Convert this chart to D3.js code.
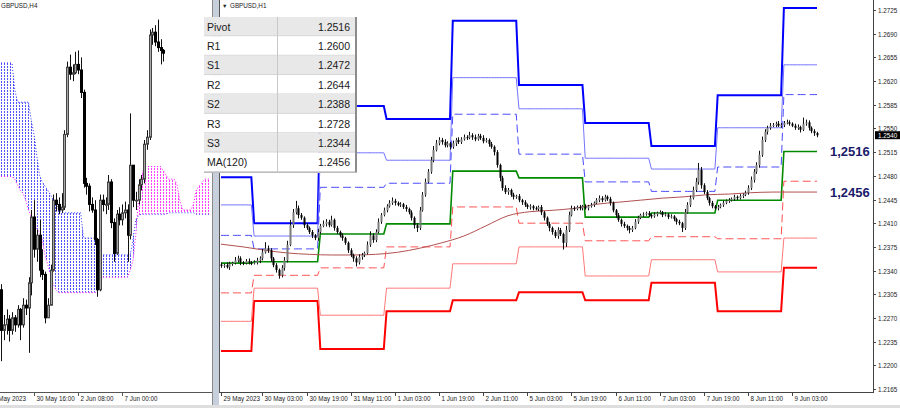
<!DOCTYPE html>
<html><head><meta charset="utf-8">
<script src="https://cdn.jsdelivr.net/npm/d3@7"></script>
<style>
html,body{margin:0;padding:0;background:#fff;}
svg{display:block;}
text{font-family:"Liberation Sans",Arial,sans-serif;}
</style></head><body>
<svg id="c" width="900" height="408"></svg>
<script>
// ---------------- DATA ----------------
// H1 panel (right): bars from 29 May 2023 12:00, one per hour
const h1FirstOpen = 1.2349;
const h1Close = [
1.2347,1.2348,1.2345,1.2350,1.2351,1.2355,1.2358,1.2352,1.2351,1.2354,1.2352,1.2351,
1.2352,1.2355,1.2358,1.2367,1.2373,1.2370,1.2358,1.2348,1.2341,1.2333,1.2344,1.2355,1.2378,1.2407,1.2426,1.2432,1.2422,1.2418,1.2407,1.2403,1.2397,1.2392,1.2388,1.2397,
1.2406,1.2409,1.2412,1.2407,1.2415,1.2403,1.2397,1.2392,1.2388,1.2381,1.2370,1.2363,1.2358,1.2352,1.2360,1.2363,1.2366,1.2378,1.2392,1.2385,1.2397,1.2412,1.2422,1.2429,
1.2435,1.2440,1.2443,1.2440,1.2437,1.2438,1.2434,1.2431,1.2426,1.2418,1.2407,1.2403,1.2429,1.2452,1.2471,1.2486,1.2503,1.2518,1.2528,1.2533,1.2530,1.2525,1.2528,1.2523,
1.2528,1.2533,1.2530,1.2534,1.2537,1.2536,1.2540,1.2537,1.2534,1.2539,1.2536,1.2531,1.2533,1.2527,1.2523,1.2515,1.2496,1.2477,1.2462,1.2456,1.2459,1.2452,1.2449,1.2450,
1.2444,1.2441,1.2437,1.2434,1.2435,1.2432,1.2431,1.2434,1.2426,1.2418,1.2409,1.2403,1.2397,1.2391,1.2400,1.2394,1.2381,1.2400,1.2422,1.2432,1.2431,1.2434,1.2432,1.2435,
1.2432,1.2435,1.2437,1.2440,1.2444,1.2447,1.2444,1.2449,1.2446,1.2440,1.2429,1.2422,1.2415,1.2409,1.2406,1.2403,1.2400,1.2403,1.2412,1.2418,1.2422,1.2423,1.2425,1.2422,
1.2420,1.2423,1.2425,1.2426,1.2422,1.2423,1.2419,1.2420,1.2416,1.2412,1.2410,1.2403,1.2426,1.2437,1.2447,1.2459,1.2471,1.2489,1.2466,1.2456,1.2447,1.2440,1.2435,1.2432,
1.2434,1.2437,1.2440,1.2443,1.2444,1.2446,1.2449,1.2447,1.2450,1.2452,1.2455,1.2462,1.2474,1.2486,1.2496,1.2511,1.2533,1.2545,1.2551,1.2554,1.2555,1.2557,1.2554,1.2555,
1.2558,1.2559,1.2557,1.2554,1.2551,1.2552,1.2548,1.2557,1.2559,1.2551,1.2546,1.2543,1.2540];
// wick lengths in pips above max(open,close) and below min(open,close)
const h1UpWick = [
3,2,4,3,2,5,4,3,2,3,4,2,
3,4,3,5,9,4,3,2,3,2,4,5,6,8,5,11,4,3,2,3,2,3,2,4,
3,5,4,3,6,2,3,2,3,2,2,3,2,3,4,3,2,5,6,3,4,5,3,4,
3,4,5,3,2,3,2,3,2,3,2,3,5,4,5,4,5,6,5,4,3,4,3,2,
4,3,4,3,4,3,5,3,4,3,3,4,3,2,3,2,3,2,3,4,3,2,3,2,
3,2,3,2,3,2,3,2,3,2,2,3,2,3,4,3,2,6,5,4,3,2,3,2,
3,2,3,2,3,4,3,3,2,3,2,2,3,2,3,2,3,3,4,3,2,3,2,3,
2,3,2,3,2,3,2,3,2,2,3,2,5,4,4,5,6,10,4,3,3,2,3,2,
3,2,3,2,3,2,3,2,3,2,3,4,5,4,4,6,5,4,3,4,3,3,4,3,
3,4,3,2,3,4,2,9,4,3,2,3,2];
const h1DnWick = [
3,3,2,4,3,2,3,4,3,2,3,3,
2,3,4,3,2,4,5,3,4,5,3,4,3,2,4,3,5,3,4,3,3,4,3,4,
3,2,4,3,2,4,3,3,4,3,4,3,5,6,3,4,3,2,3,4,3,2,3,2,
3,2,3,4,2,3,3,4,3,4,5,6,3,2,3,2,3,3,2,3,4,3,3,4,
3,4,3,3,2,3,2,4,3,2,3,3,2,4,3,5,4,5,4,3,4,3,4,3,
3,4,3,3,4,3,2,3,4,4,3,5,4,3,4,3,10,6,3,2,3,2,3,3,
2,3,2,3,2,3,3,2,3,4,3,4,3,4,3,4,5,3,2,3,2,3,2,3,
3,2,3,2,3,2,3,2,3,4,3,6,3,2,3,2,3,4,5,3,3,4,3,2,
3,2,3,2,3,2,3,3,2,3,2,3,3,4,3,4,3,3,4,3,2,3,2,3,
3,2,3,2,3,3,4,2,3,4,3,4,3];

// daily pivot levels (one value per trading day shown)
const dayStartBar = [0,12,36,60,84,108,132,156,180,204];
const levelR3 = [1.2478,1.2410,1.2583,1.2564,1.2709,1.2614,1.2558,1.2524,1.2599,1.2728];
const levelR2 = [1.2437,1.2391,1.2514,1.2503,1.2625,1.2579,1.2506,1.2490,1.2551,1.2644];
const levelR1 = [1.2392,1.2372,1.2463,1.2469,1.2571,1.2512,1.2471,1.2457,1.2493,1.2600];
const levelP  = [1.2351,1.2353,1.2394,1.2409,1.2487,1.2477,1.2419,1.2425,1.2444,1.2516];
const levelS1 = [1.2307,1.2333,1.2344,1.2375,1.2434,1.2410,1.2384,1.2390,1.2387,1.2472];
const levelS2 = [1.2265,1.2314,1.2274,1.2314,1.2350,1.2375,1.2332,1.2356,1.2338,1.2388];
const levelS3 = [1.2221,1.2295,1.2224,1.2280,1.2296,1.2308,1.2296,1.2322,1.2280,1.2344];

// MA(120) read every 8 bars
const maBar = [0,8,16,24,32,40,48,56,64,72,80,88,96,104,112,120,128,136,144,152,160,168,176,184,192,200,208,216];
const maVal = [1.2379,1.2375,1.2370,1.2366,1.2364,1.2363,1.2363,1.2364,1.2367,1.2373,1.2381,1.2391,1.2406,1.2421,1.2427,1.2429,1.2432,1.2438,1.2441,1.2444,1.2447,1.2449,1.2452,1.2453,1.2455,1.2456,1.2456,1.2456];

const h1TickLabels = ["1.2725","1.2690","1.2655","1.2620","1.2585","1.2550","1.2515","1.2480","1.2445","1.2410","1.2375","1.2340","1.2305","1.2270","1.2235","1.2200","1.2165"];
const h1TimeLabels = ["29 May 2023","30 May 03:00","30 May 19:00","31 May 11:00","1 Jun 03:00","1 Jun 19:00","2 Jun 11:00","5 Jun 03:00","5 Jun 19:00","6 Jun 11:00","7 Jun 03:00","7 Jun 19:00","8 Jun 11:00","9 Jun 03:00"];
const h1TimeBars = [0,15,31,47,63,79,95,111,127,143,159,175,191,207];
const lastPrice = "1.2540";
const sideLabels = ["1,2516","1,2456"];
const sideValues = [1.2516,1.2456];

// legend table
const tableLabels = ["Pivot","R1","S1","R2","S2","R3","S3","MA(120)"];
const tableValues = ["1.2516","1.2600","1.2472","1.2644","1.2388","1.2728","1.2344","1.2456"];

// H4 panel (left): bars from 26 May 16:00, every 4 hours
const h4FirstOpen = 1.2375;
const h4Close = [1.2346,1.2350,1.2354,1.2346,1.2355,1.2350,1.2361,1.2350,1.2364,1.2362,1.2380,1.2427,1.2404,1.2414,1.2389,1.2386,1.2355,1.2364,1.2389,1.2439,1.2436,1.2432,1.2434,1.2486,1.2534,1.2529,1.2530,1.2536,1.2532,1.2516,1.2451,1.2449,1.2436,1.2432,1.2411,1.2375,1.2439,1.2436,1.2436,1.2452,1.2423,1.2401,1.2429,1.2425,1.2430,1.2432,1.2414,1.2464,1.2439,1.2439,1.2450,1.2454,1.2479,1.2484,1.2557,1.2559,1.2552,1.2548,1.2546,1.2544];
const h4High = [1.2379,1.2357,1.2361,1.2357,1.2359,1.2357,1.2364,1.2362,1.2369,1.2368,1.2384,1.2432,1.2439,1.2418,1.2425,1.2404,1.2388,1.2369,1.2393,1.2443,1.2444,1.2441,1.2444,1.2489,1.2538,1.2543,1.2536,1.2545,1.2546,1.2541,1.2518,1.2455,1.2451,1.2441,1.2439,1.2412,1.2443,1.2443,1.2441,1.2457,1.2454,1.2426,1.2432,1.2434,1.2436,1.2438,1.2436,1.2501,1.2464,1.2445,1.2454,1.2457,1.2482,1.2489,1.2561,1.2562,1.2564,1.2568,1.2554,1.2547];
const h4Low = [1.2324,1.2339,1.2343,1.2338,1.2343,1.2345,1.2348,1.2339,1.2348,1.2357,1.2330,1.2371,1.2398,1.2395,1.2384,1.2382,1.2351,1.2355,1.2364,1.2388,1.2431,1.2429,1.2430,1.2432,1.2484,1.2525,1.2524,1.2529,1.2529,1.2512,1.2448,1.2443,1.2431,1.2430,1.2407,1.2370,1.2374,1.2431,1.2429,1.2432,1.2419,1.2395,1.2400,1.2421,1.2421,1.2426,1.2395,1.2411,1.2434,1.2432,1.2436,1.2446,1.2451,1.2475,1.2482,1.2550,1.2549,1.2545,1.2536,1.2538];
// Ichimoku spans (shifted forward, so they run past the last bar)
const spanA = [1.2537,1.2537,1.2537,1.2537,1.2537,1.2518,1.2509,1.2509,1.2509,1.2509,1.2509,1.2496,1.2486,1.2471,1.2457,1.2452,1.2449,1.2446,1.2443,1.2439,1.2436,1.2432,
1.2430,1.2430,1.2430,1.2430,1.2430,1.2430,1.2430,1.2430,1.2412,1.2412,1.2412,1.2412,1.2412,1.2412,
1.2400,1.2400,1.2400,1.2400,1.2400,1.2400,1.2400,1.2400,1.2400,1.2400,1.2400,1.2400,1.2411,1.2425,1.2428,
1.2429,1.2429,1.2429,1.2429,1.2429,1.2429,1.2429,1.2429,1.2429,1.2429,1.2430,1.2430,1.2430,1.2430,1.2430,1.2430,1.2430,1.2430,1.2430,1.2430,1.2429,1.2429,1.2429,1.2429,1.2429,1.2429];
const spanB = [1.2456,1.2456,1.2456,1.2456,1.2456,1.2454,1.2450,1.2446,1.2444,1.2439,1.2432,1.2427,1.2424,1.2419,1.2416,1.2411,1.2400,1.2393,1.2386,1.2379,1.2375,
1.2373,1.2373,1.2373,1.2373,1.2373,1.2373,1.2373,1.2373,1.2373,1.2373,1.2373,1.2373,1.2373,1.2373,1.2373,
1.2384,1.2384,1.2384,1.2384,1.2384,1.2384,1.2384,1.2384,1.2384,1.2384,1.2384,1.2389,1.2396,1.2414,1.2439,1.2454,
1.2463,1.2463,1.2463,1.2463,1.2463,1.2463,1.2463,1.2460,1.2457,1.2454,1.2454,1.2454,1.2450,1.2439,1.2432,1.2432,1.2432,1.2432,1.2436,1.2446,1.2449,1.2451,1.2454,1.2454,1.2454];
const h4TimeLabels = ["26 May 2023","30 May 16:00","2 Jun 08:00","7 Jun 00:00"];
const h4TimeBars = [-5,12,28,44];

// ---------------- DRAW ----------------
const svg = d3.select("#c");
const defs = svg.append("defs");
function dotPattern(id,color){
  const p = defs.append("pattern").attr("id",id).attr("width",3).attr("height",3).attr("patternUnits","userSpaceOnUse");
  p.append("rect").attr("x",1).attr("y",0).attr("width",1).attr("height",2).attr("fill",color);
}
dotPattern("dotB","#5252ff");
dotPattern("dotM","#ff3cff");

// ===== LEFT PANEL (H4) =====
const xL = d3.scaleLinear().domain([0,76]).range([1,210]);
const yL = d3.scaleLinear().domain([1.2302,1.2582]).range([392,0]);
defs.append("clipPath").attr("id","clipL").append("rect").attr("x",0).attr("y",0).attr("width",212).attr("height",392);
const gL = svg.append("g").attr("clip-path","url(#clipL)");

const cloud = spanA.map((a,i)=>({a:a,b:spanB[i]}));
defs.append("clipPath").attr("id","aboveB").append("path")
  .attr("d", d3.area().x((d,i)=>xL(i)).y0(0).y1(d=>yL(d.b))(cloud));
defs.append("clipPath").attr("id","aboveA").append("path")
  .attr("d", d3.area().x((d,i)=>xL(i)).y0(0).y1(d=>yL(d.a))(cloud));
gL.append("path").attr("clip-path","url(#aboveB)")
  .attr("d", d3.area().x((d,i)=>xL(i)).y0(d=>yL(d.a)).y1(392)(cloud))
  .attr("fill","url(#dotB)");
gL.append("path").attr("clip-path","url(#aboveA)")
  .attr("d", d3.area().x((d,i)=>xL(i)).y0(d=>yL(d.b)).y1(392)(cloud))
  .attr("fill","url(#dotM)");
gL.append("path").attr("d", d3.line().x((d,i)=>xL(i)).y(d=>yL(d.a))(cloud))
  .attr("fill","none").attr("stroke","#3030ff").attr("stroke-width",1).attr("stroke-dasharray","1,2");
gL.append("path").attr("d", d3.line().x((d,i)=>xL(i)).y(d=>yL(d.b))(cloud))
  .attr("fill","none").attr("stroke","#ff00ff").attr("stroke-width",1).attr("stroke-dasharray","1,2");

const h4 = h4Close.map((c,i)=>({o: i===0?h4FirstOpen:h4Close[i-1], c:c, h:h4High[i], l:h4Low[i]}));
const gc4 = gL.append("g");
h4.forEach((d,i)=>{
  const cx = Math.round(xL(i));
  const hi = Math.max(d.h,d.o,d.c), lo = Math.min(d.l,d.o,d.c);
  gc4.append("line").attr("x1",cx+0.5).attr("x2",cx+0.5).attr("y1",yL(hi)).attr("y2",yL(lo)).attr("stroke","#111").attr("stroke-width",1);
  const top = yL(Math.max(d.o,d.c)), bot = yL(Math.min(d.o,d.c));
  gc4.append("rect").attr("x",cx-0.5).attr("y",top).attr("width",2).attr("height",Math.max(0.8,bot-top))
    .attr("fill", d.c>=d.o ? "#a8a8a8" : "#000000").attr("stroke", d.c>=d.o ? "#444" : "#000").attr("stroke-width",1);
});
// left axis line & labels
svg.append("line").attr("x1",0).attr("x2",212).attr("y1",392.5).attr("y2",392.5).attr("stroke","#555");
h4TimeBars.forEach((b,k)=>{
  const x = Math.round(xL(b))+0.5;
  svg.append("line").attr("x1",x).attr("x2",x).attr("y1",392).attr("y2",396).attr("stroke","#555");
  svg.append("text").attr("x",x+2).attr("y",401).attr("font-size",6.3).attr("fill","#222").text(h4TimeLabels[k]);
});
svg.append("text").attr("x",1).attr("y",7.5).attr("font-size",6.3).attr("fill","#222").text("GBPUSD,H4");

// separator between panels
svg.append("rect").attr("x",212).attr("y",0).attr("width",7).attr("height",408).attr("fill","#c6cfdb");
svg.append("line").attr("x1",212.5).attr("x2",212.5).attr("y1",0).attr("y2",408).attr("stroke","#8a8a8a");
svg.append("line").attr("x1",219.5).attr("x2",219.5).attr("y1",0).attr("y2",393).attr("stroke","#555");

// ===== RIGHT PANEL (H1) =====
const xR = d3.scaleLinear().domain([0,216]).range([221,817]);
const yR = d3.scaleLinear().domain([1.2165,1.2725]).range([389,10]);
const gR = svg.append("g");

const nBars = h1Close.length;
const dayOf = d3.range(nBars).map(i=>d3.bisectRight(dayStartBar,i)-1);
function levelLine(arr, color, width, dash){
  const pts = d3.range(nBars).map(i=>[xR(i), yR(arr[dayOf[i]])]);
  const p = gR.append("path").attr("d", d3.line()(pts)).attr("fill","none")
    .attr("stroke",color).attr("stroke-width",width);
  if(dash) p.attr("stroke-dasharray",dash);
}
levelLine(levelS3,"#ff0000",2);
levelLine(levelS2,"#ff7878",1);
levelLine(levelS1,"#ff5050",1,"8,4");
levelLine(levelR3,"#0000ff",2);
levelLine(levelR2,"#7474ff",1);
levelLine(levelR1,"#4848ff",1,"8,4");
levelLine(levelP,"#008a00",1.6);

gR.append("path").attr("d", d3.line().curve(d3.curveMonotoneX).x((d,k)=>xR(maBar[k])).y(d=>yR(d))(maVal))
  .attr("fill","none").attr("stroke","#b35050").attr("stroke-width",1);

const gc1 = gR.append("g");
h1Close.forEach((c,i)=>{
  const o = i===0?h1FirstOpen:h1Close[i-1];
  const h = Math.max(o,c)+h1UpWick[i]*0.0001, l = Math.min(o,c)-h1DnWick[i]*0.0001;
  const cx = Math.round(xR(i));
  gc1.append("line").attr("x1",cx+0.5).attr("x2",cx+0.5).attr("y1",yR(h)).attr("y2",yR(l)).attr("stroke","#111").attr("stroke-width",1);
  const top = yR(Math.max(o,c)), bot = yR(Math.min(o,c));
  gc1.append("rect").attr("x",cx-0.5).attr("y",top).attr("width",2).attr("height",Math.max(1,bot-top))
    .attr("fill", c>=o ? "#7a7a7a" : "#000");
});

// side labels
sideLabels.forEach((t,k)=>{
  svg.append("text").attr("x",830).attr("y",yR(sideValues[k])+5)
    .attr("font-family","'Liberation Serif','Times New Roman',serif").attr("font-weight","bold")
    .attr("font-size",13).attr("fill","#1a1a6a").text(t);
});

// axes frame
svg.append("line").attr("x1",873.5).attr("x2",873.5).attr("y1",0).attr("y2",393).attr("stroke","#444");
svg.append("line").attr("x1",219.5).attr("x2",873.5).attr("y1",392.5).attr("y2",392.5).attr("stroke","#444");
h1TickLabels.forEach(t=>{
  const y = Math.round(yR(+t))+0.5;
  svg.append("line").attr("x1",873).attr("x2",876).attr("y1",y).attr("y2",y).attr("stroke","#444");
  svg.append("text").attr("x",878).attr("y",y+2.3).attr("font-size",6.3).attr("fill","#222").text(t);
});
const lpY = yR(+lastPrice);
svg.append("rect").attr("x",875).attr("y",lpY-4).attr("width",25).attr("height",8).attr("fill","#000");
svg.append("text").attr("x",878).attr("y",lpY+2.3).attr("font-size",6.3).attr("fill","#fff").text(lastPrice);
h1TimeBars.forEach((b,k)=>{
  const x = Math.round(xR(b))+0.5;
  svg.append("line").attr("x1",x).attr("x2",x).attr("y1",392).attr("y2",396).attr("stroke","#444");
  svg.append("text").attr("x",x+2).attr("y",401).attr("font-size",6.3).attr("fill","#222").text(h1TimeLabels[k]);
});
svg.append("text").attr("x",222).attr("y",7.5).attr("font-size",5.5).attr("fill","#222").text("\u25BC");
svg.append("text").attr("x",230).attr("y",7.5).attr("font-size",6.3).attr("fill","#222").text("GBPUSD,H1");

// bottom strip
svg.append("rect").attr("x",0).attr("y",405).attr("width",900).attr("height",3).attr("fill","#dedede");

// legend table
const rowH = 155/8;
const tg = svg.append("g").attr("transform","translate(204,17)");
tableLabels.forEach((lab,i)=>{
  tg.append("rect").attr("x",0).attr("y",i*rowH).attr("width",151).attr("height",rowH)
    .attr("fill", i%2===0 ? "#e8e8e8" : "#ffffff");
  tg.append("line").attr("x1",0).attr("x2",151).attr("y1",i*rowH+rowH-0.5).attr("y2",i*rowH+rowH-0.5).attr("stroke","#d4d4d4");
  tg.append("text").attr("x",3).attr("y",i*rowH+rowH/2+4).attr("font-size",10.5).attr("fill","#1a1a1a").text(lab);
  tg.append("text").attr("x",146).attr("y",i*rowH+rowH/2+4).attr("font-size",10.5).attr("fill","#1a1a1a")
    .attr("text-anchor","end").text(tableValues[i]);
});
tg.append("line").attr("x1",73.5).attr("x2",73.5).attr("y1",0).attr("y2",155).attr("stroke","#c8c8c8");
tg.append("line").attr("x1",152).attr("x2",152).attr("y1",0).attr("y2",156).attr("stroke","#8c8c8c").attr("stroke-width",2);
tg.append("line").attr("x1",0).attr("x2",153).attr("y1",155.5).attr("y2",155.5).attr("stroke","#bdbdbd");
</script>
</body></html>
